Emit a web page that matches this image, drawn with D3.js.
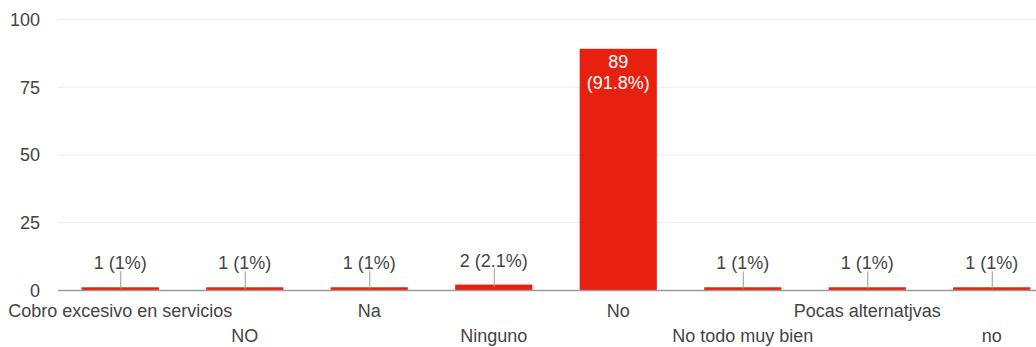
<!DOCTYPE html>
<html><head><meta charset="utf-8">
<script src="https://cdn.jsdelivr.net/npm/d3@7"></script>
<style>
html,body{margin:0;padding:0;background:#fff;}
svg{display:block;font-family:"Liberation Sans",Arial,sans-serif;}
</style></head>
<body><svg id="c" width="1036" height="347"></svg>
<script>
const categories = ["Cobro excesivo en servicios","NO","Na","Ninguno","No","No todo muy bien","Pocas alternatjvas","no"];
const counts = [1,1,1,2,89,1,1,1];
const percents = ["1%","1%","1%","2.1%","91.8%","1%","1%","1%"];
const yTicks = [0,25,50,75,100];

(function(){
const svg = d3.select("#c");
const fs = 18;
const mLeft = 58, mRight = 1054, mTop = 19, mBottom = 290;
const x = d3.scaleBand().domain(categories).range([mLeft, mRight]).paddingInner(0.38).paddingOuter(0.19);
const y = d3.scaleLinear().domain([0,100]).range([mBottom, mTop]);

// gridlines
svg.append("g").selectAll("line").data(yTicks.filter(d=>d>0)).join("line")
  .attr("x1", mLeft).attr("x2", 1036).attr("y1", d=>y(d)+0.5).attr("y2", d=>y(d)+0.5)
  .attr("stroke", "#ebebeb").attr("stroke-width", 1);

// y axis labels
const yAxis = d3.axisLeft(y).tickValues(yTicks).tickSize(0).tickPadding(0);
const gy = svg.append("g").attr("transform", `translate(${mLeft-18},0)`).call(yAxis);
gy.select(".domain").remove();
gy.selectAll("text").attr("font-size", fs).attr("fill", "#444").attr("font-family", "Liberation Sans, Arial, sans-serif").attr("dy", "0.35em");

// bars
svg.append("g").selectAll("rect").data(categories).join("rect")
  .attr("x", d=>x(d)).attr("width", x.bandwidth())
  .attr("y", (d,i)=>y(counts[i])).attr("height", (d,i)=>mBottom - y(counts[i]))
  .attr("fill", "#e8200f");

// baseline
svg.append("line").attr("x1", mLeft).attr("x2", 1036).attr("y1", mBottom+0.5).attr("y2", mBottom+0.5)
  .attr("stroke", "#9a9a9a").attr("stroke-width", 1.5);

// value labels
categories.forEach((c,i)=>{
  const cx = x(c) + x.bandwidth()/2;
  const v = counts[i];
  const topY = y(v);
  if (mBottom - topY > 50) {
    svg.append("text").attr("x", cx).attr("y", topY + 19).attr("text-anchor","middle")
      .attr("font-size", fs).attr("fill", "#fff").text(v);
    svg.append("text").attr("x", cx).attr("y", topY + 40).attr("text-anchor","middle")
      .attr("font-size", fs).attr("fill", "#fff").text(`(${percents[i]})`);
  } else {
    svg.append("line").attr("x1", cx+0.5).attr("x2", cx+0.5).attr("y1", topY - 16).attr("y2", (topY+mBottom)/2)
      .attr("stroke", "#999").attr("stroke-width", 1);
    svg.append("text").attr("x", cx).attr("y", topY - 18).attr("text-anchor","middle")
      .attr("font-size", fs).attr("fill", "#444").text(`${v} (${percents[i]})`);
  }
});

// x axis labels (staggered)
const xAxis = d3.axisBottom(x).tickSize(0).tickPadding(0);
const gx = svg.append("g").attr("transform", `translate(0,${mBottom})`).call(xAxis);
gx.select(".domain").remove();
gx.selectAll("text").attr("font-size", fs).attr("fill", "#444")
  .attr("font-family", "Liberation Sans, Arial, sans-serif")
  .attr("dy", null)
  .attr("y", (d,i)=> i%2===0 ? 27 : 52);
})();
</script></body></html>
